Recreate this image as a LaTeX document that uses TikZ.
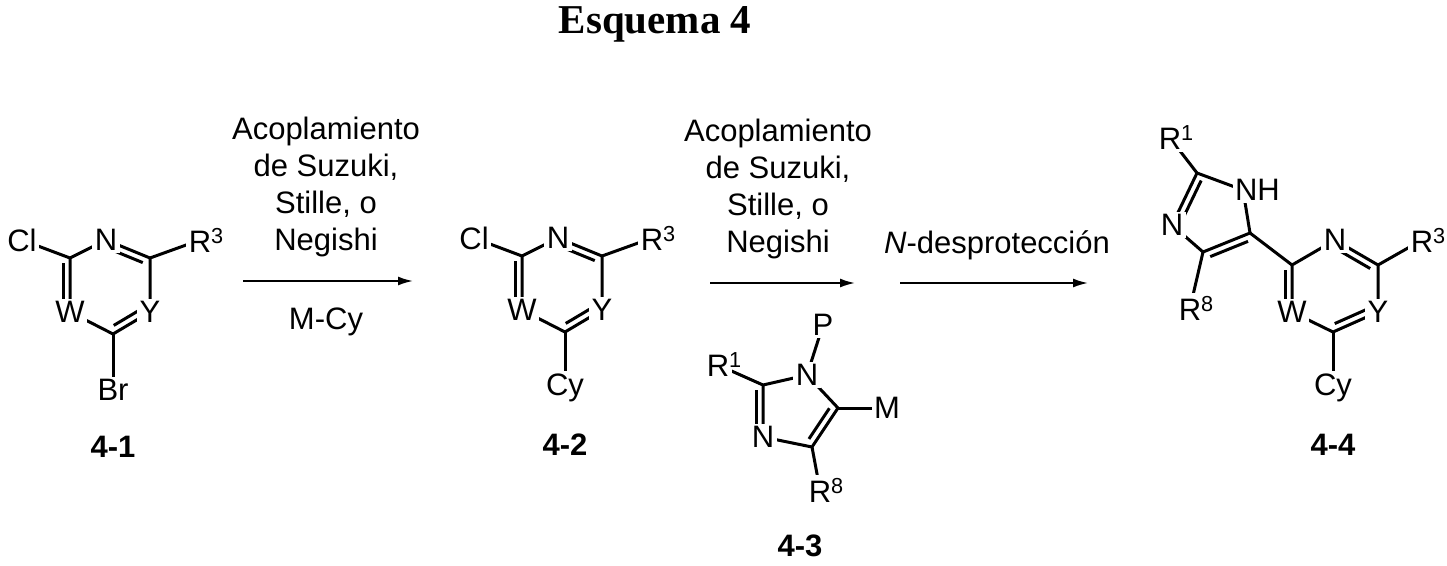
\documentclass[tikz,border=0pt]{standalone}
\usepackage{fontspec}
\setmainfont{Liberation Sans}
\newfontfamily\titlefont{Liberation Serif}
\usetikzlibrary{calc,arrows.meta}
\newcommand\inb[3]{\path ($(#1)!#3!90:(#2)$) coordinate (ia) ($(#2)!#3!-90:(#1)$) coordinate (ib);
 \draw[shorten >=5pt,shorten <=5pt] (ia)--(ib);}
\begin{document}
\begin{tikzpicture}[x=1pt,y=-1pt,line width=3pt,
 atom/.style={fill=white,inner sep=2.5pt,font=\fontsize{31}{34}\selectfont},
 txt/.style={font=\fontsize{31}{37}\selectfont,align=center},
 lab/.style={font=\bfseries\fontsize{31}{34}\selectfont},
 rxn/.style={line width=1.8pt,-{Latex[length=15pt,width=9pt]}}]
\useasboundingbox (0,0) rectangle (1447,565);
\node[font=\titlefont\bfseries\fontsize{41}{44}\selectfont] (title) at (655,24) {Esquema 4};
% ---------- 4-1 and 4-2
\foreach \dx/\dy/\sub/\nm/\lb in {0/0/Br/a/4-1,452/-2/Cy/b/4-2}{
\begin{scope}[shift={(\dx,\dy)}]
\coordinate (\nm c1) at (70,258); \coordinate (\nm n) at (106,240);
\coordinate (\nm c3) at (150,258); \coordinate (\nm y) at (150,312);
\coordinate (\nm c5) at (113,334); \coordinate (\nm w) at (70,312);
\coordinate (\nm cl) at (22,240); \coordinate (\nm r) at (200,240);
\coordinate (\nm s) at (113,390);
\draw (\nm cl)--(\nm c1)--(\nm n)--(\nm c3)--(\nm y)--(\nm c5)--(\nm w)--(\nm c1);
\draw (\nm c3)--(\nm r); \draw (\nm c5)--(\nm s);
\inb{\nm c1}{\nm w}{-7pt}
\inb{\nm n}{\nm c3}{-7pt}
\inb{\nm y}{\nm c5}{-7pt}
\node[atom] (\nm ClL) at (\nm cl) {Cl};
\node[atom] (\nm NL) at (\nm n) {N};
\node[atom] (\nm WL) at (\nm w) {W};
\node[atom] (\nm YL) at (\nm y) {Y};
\node[atom] (\nm RL) at (\nm r) {R\rlap{\textsuperscript{3}}};
\node[atom] (\nm SL) at (\nm s) {\sub};
\node[lab] (\nm lab) at (113,447) {\lb};
\end{scope}}
% ---------- 4-3
\coordinate (p) at (823,325); \coordinate (r1) at (718,365);
\coordinate (n1) at (807,375); \coordinate (c2) at (763,385);
\coordinate (n3) at (763,437); \coordinate (c4) at (812,447);
\coordinate (c5) at (838,408); \coordinate (m) at (887,408);
\coordinate (r8) at (820,490);
\draw (r1)--(c2)--(n1)--(c5)--(c4)--(n3)--(c2); \draw (n1)--(p); \draw (c5)--(m); \draw (c4)--(r8);
\inb{c2}{n3}{-7pt}
\inb{c5}{c4}{-7pt}
\node[atom] (pL) at (p) {P};
\node[atom] (r1L) at (r1) {R\rlap{\textsuperscript{1}}};
\node[atom] (n1L) at (n1) {N};
\node[atom] (n3L) at (n3) {N};
\node[atom] (mL) at (m) {M};
\node[atom] (r8L) at (r8) {R\rlap{\textsuperscript{8}}};
\node[lab] (l3) at (800,546) {4-3};
% ---------- 4-4
\coordinate (dr1) at (1170,138); \coordinate (dc2) at (1197,173);
\coordinate (dn1) at (1243,190); \coordinate (dn3) at (1172,225);
\coordinate (dc4) at (1203,252); \coordinate (dc5) at (1250,233);
\coordinate (dr8) at (1190,308);
\coordinate (ec1) at (1292,265); \coordinate (en) at (1335,240);
\coordinate (ec3) at (1378,265); \coordinate (ey) at (1378,312);
\coordinate (ec5) at (1333,332); \coordinate (ew) at (1292,312);
\coordinate (er) at (1422,240); \coordinate (es) at (1333,388);
\draw (dr1)--(dc2)--(dn1)--(dc5)--(dc4)--(dn3)--(dc2); \draw (dc4)--(dr8); \draw (dc5)--(ec1);
\draw (ec1)--(en)--(ec3)--(ey)--(ec5)--(ew)--(ec1); \draw (ec3)--(er); \draw (ec5)--(es);
\inb{dc2}{dn3}{7pt}
\inb{dc5}{dc4}{7pt}
\inb{ec1}{ew}{-7pt}
\inb{en}{ec3}{-7pt}
\inb{ey}{ec5}{-7pt}
\node[atom] (dr1L) at (dr1) {R\rlap{\textsuperscript{1}}};
\node[atom,anchor=west,xshift=-12pt] (dn1L) at (dn1) {NH};
\node[atom] (dn3L) at (dn3) {N};
\node[atom] (dr8L) at (dr8) {R\rlap{\textsuperscript{8}}};
\node[atom] (enL) at (en) {N};
\node[atom] (ewL) at (ew) {W};
\node[atom] (eyL) at (ey) {Y};
\node[atom] (erL) at (er) {R\rlap{\textsuperscript{3}}};
\node[atom] (esL) at (es) {Cy};
\node[lab] (l4) at (1333,445) {4-4};
% ---------- arrows
\coordinate (a1s) at (243,281); \coordinate (a1e) at (413,281);
\coordinate (a2s) at (710,283); \coordinate (a2e) at (855,283);
\coordinate (a3s) at (900,283); \coordinate (a3e) at (1088,283);
\draw[rxn] (a1s)--(a1e); \draw[rxn] (a2s)--(a2e); \draw[rxn] (a3s)--(a3e);
\node[txt,anchor=south] (t1) at (326,262) {Acoplamiento\\de Suzuki,\\Stille, o\\Negishi};
\node[txt] (t1b) at (326,322) {M-Cy};
\node[txt,anchor=south] (t2) at (778,264) {Acoplamiento\\de Suzuki,\\Stille, o\\Negishi};
\node[txt] (t3) at (997,245) {\textit{N}-desprotección};
\end{tikzpicture}
\end{document}
